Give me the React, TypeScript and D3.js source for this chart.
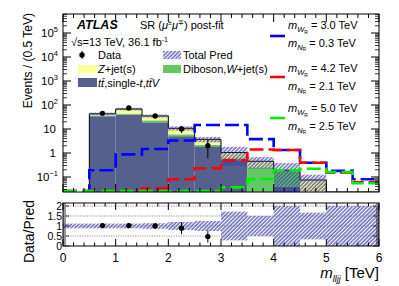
import * as d3 from "d3";
import React from "react";

// bins of 0.5 TeV from 0 to 6 TeV
const binLow = [0, 0.5, 1, 1.5, 2, 2.5, 3, 3.5, 4, 4.5, 5, 5.5];
const binWidth = 0.5;

// stacked backgrounds (events per bin)
const ttbar = [0, 34, 40, 19, 5, 1.9, 0.5, 0, 0.04, 0, 0, 0];
const diboson = [0, 3, 4, 4, 1, 0.3, 0.1, 0.25, 0.14, 0, 0, 0];
const zjets = [0, 6, 24, 12, 4.7, 1.5, 0.45, 0.2, 0.01, 0.075, 0, 0];
// relative uncertainty of total prediction
const bandErr = [0.12, 0.12, 0.12, 0.14, 0.2, 0.25, 0.72, 0.5, 1.0, 0.67, 1.0, 1.0];

// signal hypotheses
const sigBlue = [0, 0.19, 0.88, 1.46, 3.3, 14.7, 14.7, 3.8, 1.33, 0.39, 0.18, 0.08];
const sigRed = [0, 0, 0, 0.034, 0.08, 0.23, 0.5, 1.4, 1.33, 0.39, 0.15, 0.06];
const sigGreen = [0, 0, 0, 0, 0, 0, 0.037, 0.083, 0.19, 0.22, 0.16, 0.055];

// data
const dataX = [0.75, 1.25, 1.75, 2.25, 2.75];
const dataY = [45, 75, 35, 10, 2];
const dataErrUp = [6.7, 8.7, 5.9, 3.2, 1.5];
const dataErrDn = [6.7, 8.7, 5.9, 3.2, 1.4];
const ratioY = [1.02, 1.02, 1.0, 0.89, 0.47];
const ratioErr = [0.12, 0.12, 0.14, 0.3, 0.3];

// axes
const xTicks = [0, 1, 2, 3, 4, 5, 6];
const yDecades = [-1, 0, 1, 2, 3, 4, 5];
const ratioTicks = [0, 0.5, 1, 1.5, 2];
const ratioTickLabels = ["0", "0.5", "1", "1.5", "2"];

const FONT = "'Liberation Sans', Arial, Helvetica, sans-serif";
const C_TT = "#56608f";
const C_Z = "#ffff99";
const C_VV = "#63c963";
const C_HATCH = "#3535a6";

const L = 63, R = 379;
const MT = 14, MB = 192;
const RT = 203, RB = 246;

const x = d3.scaleLinear().domain([0, 6]).range([L, R]);
const y = d3.scaleLog().domain([0.0237, 6.2e5]).range([MB, MT]).clamp(true);
const ry = d3.scaleLinear().domain([0, 2.15]).range([RB, RT]).clamp(true);
const yv = (v: number) => (v > 0 ? y(v) : MB);

const stackData = binLow.map((lo, i) => ({ lo, ttbar: ttbar[i], diboson: diboson[i], zjets: zjets[i] }));
const series = d3.stack<any>().keys(["ttbar", "diboson", "zjets"])(stackData);
const fills: Record<string, string> = { ttbar: C_TT, diboson: C_VV, zjets: C_Z };
const totals = binLow.map((_, i) => ttbar[i] + diboson[i] + zjets[i]);

const stepLine = d3
  .line<{ x: number; v: number }>()
  .x((d) => x(d.x))
  .y((d) => (d.v > 0 ? Math.min(y(d.v), MB - 1) : MB - 1))
  .curve(d3.curveStepAfter);

const stepPts = (vals: number[]) => [
  ...binLow.map((lo, i) => ({ x: lo, v: vals[i] })),
  { x: 6, v: vals[vals.length - 1] },
];

const totalOutline = (() => {
  const first = totals.findIndex((t) => t > 0);
  const pts: [number, number][] = [[x(binLow[first]), MB]];
  totals.forEach((t, i) => {
    if (i < first) return;
    const yy = yv(t);
    pts.push([x(binLow[i]), yy], [x(binLow[i] + binWidth), yy]);
  });
  return d3.line()(pts) as string;
})();

function SigLabel({ yy, w, n }: { yy: number; w: string; n: string }) {
  return (
    <g fontSize={11}>
      <text x={288} y={yy}>
        <tspan fontStyle="italic">m</tspan>
        <tspan fontStyle="italic" fontSize={7.5} dy={3}>W</tspan>
        <tspan fontSize={5} dy={1.5}>R</tspan>
        <tspan dy={-4.5}> = {w} TeV</tspan>
      </text>
      <text x={288} y={yy + 17.5}>
        <tspan fontStyle="italic">m</tspan>
        <tspan fontStyle="italic" fontSize={7.5} dy={3}>N</tspan>
        <tspan fontSize={5} dy={1.5}>R</tspan>
        <tspan dy={-4.5}> = {n} TeV</tspan>
      </text>
    </g>
  );
}

export default function App() {
  const minorX = d3.range(0, 6.001, 0.2);
  const minorY: number[] = [];
  yDecades.concat([-2]).forEach((d) => {
    for (let k = 2; k <= 9; k++) {
      const v = k * Math.pow(10, d);
      if (v > 0.0237 && v < 6.2e5) minorY.push(v);
    }
  });
  const minorR = d3.range(0, 2.15, 0.1);

  return (
    <svg width={399} height={286} style={{ position: "absolute", left: 0, top: 0, background: "#fff" }} fontFamily={FONT}>
      <defs>
        <pattern id="hatch" patternUnits="userSpaceOnUse" width={2.7} height={2.7} patternTransform="rotate(45)">
          <line x1={1} y1={0} x2={1} y2={2.7} stroke={C_HATCH} strokeWidth={1.1} />
        </pattern>
        <clipPath id="mainClip">
          <rect x={L} y={MT} width={R - L} height={MB - MT} />
        </clipPath>
        <clipPath id="ratioClip">
          <rect x={L} y={RT} width={R - L} height={RB - RT} />
        </clipPath>
      </defs>

      {/* main panel */}
      <g clipPath="url(#mainClip)">
        {series.map((s) =>
          s.map((d, i) =>
            d[1] - d[0] > 0 ? (
              <rect
                key={s.key + i}
                x={x(binLow[i])}
                y={yv(d[1])}
                width={x(binLow[i] + binWidth) - x(binLow[i])}
                height={Math.max(0, yv(d[0]) - yv(d[1]))}
                fill={fills[s.key]}
              />
            ) : null
          )
        )}
        <path d={totalOutline} fill="none" stroke="#000" strokeWidth={1} />
        {totals.map((t, i) =>
          t > 0 ? (
            <rect
              key={"b" + i}
              x={x(binLow[i])}
              y={yv(t * (1 + bandErr[i]))}
              width={x(binLow[i] + binWidth) - x(binLow[i])}
              height={yv(t * (1 - bandErr[i])) - yv(t * (1 + bandErr[i]))}
              fill="url(#hatch)"
            />
          ) : null
        )}
        <path d={stepLine(stepPts(sigBlue)) as string} fill="none" stroke="#0000ff" strokeWidth={2.6} strokeDasharray="14 5" />
        <path d={stepLine(stepPts(sigRed)) as string} fill="none" stroke="#ff0000" strokeWidth={2.6} strokeDasharray="14 5" />
        <path d={stepLine(stepPts(sigGreen)) as string} fill="none" stroke="#00ee00" strokeWidth={2.6} strokeDasharray="14 5" />
        {dataX.map((dx, i) => (
          <g key={"d" + i}>
            <line x1={x(dx)} x2={x(dx)} y1={yv(dataY[i] + dataErrUp[i])} y2={yv(dataY[i] - dataErrDn[i])} stroke="#000" strokeWidth={1} />
            <circle cx={x(dx)} cy={yv(dataY[i])} r={2.7} fill="#000" />
          </g>
        ))}
      </g>

      {/* main frame and ticks */}
      <rect x={L} y={MT} width={R - L} height={MB - MT} fill="none" stroke="#000" strokeWidth={1} />
      {minorX.map((t) => {
        const major = Math.abs(t - Math.round(t)) < 1e-6;
        const len = major ? 8 : 4;
        return (
          <g key={"mx" + t} stroke="#000" strokeWidth={1}>
            <line x1={x(t)} x2={x(t)} y1={MB} y2={MB - len} />
            <line x1={x(t)} x2={x(t)} y1={MT} y2={MT + len} />
          </g>
        );
      })}
      {yDecades.map((d) => (
        <g key={"yd" + d} stroke="#000" strokeWidth={1}>
          <line x1={L} x2={L + 8} y1={y(Math.pow(10, d))} y2={y(Math.pow(10, d))} />
          <line x1={R} x2={R - 8} y1={y(Math.pow(10, d))} y2={y(Math.pow(10, d))} />
        </g>
      ))}
      {minorY.map((v, i) => (
        <g key={"ym" + i} stroke="#000" strokeWidth={0.8}>
          <line x1={L} x2={L + 4} y1={y(v)} y2={y(v)} />
          <line x1={R} x2={R - 4} y1={y(v)} y2={y(v)} />
        </g>
      ))}
      {yDecades.map((d) => {
        const yy = y(Math.pow(10, d)) + 4;
        if (d === 0)
          return (
            <text key={"yl" + d} x={56} y={yy} fontSize={11.5} textAnchor="end">1</text>
          );
        if (d === 1)
          return (
            <text key={"yl" + d} x={56} y={yy} fontSize={11.5} textAnchor="end">10</text>
          );
        return (
          <text key={"yl" + d} x={58} y={yy} fontSize={11.5} textAnchor="end">
            10<tspan fontSize={7.5} dy={-5}>{d < 0 ? "\u2212" + -d : d}</tspan>
          </text>
        );
      })}
      <text transform="translate(32,13) rotate(-90)" fontSize={12} textAnchor="end">Events / (0.5 TeV)</text>

      {/* legend */}
      <text x={77} y={29} fontSize={12.5} fontWeight="bold" fontStyle="italic">ATLAS</text>
      <text x={140} y={29} fontSize={11}>
        SR (<tspan fontStyle="italic">μ</tspan>
        <tspan fontSize={7} dy={-4}>±</tspan>
        <tspan fontStyle="italic" dy={4}>μ</tspan>
        <tspan fontSize={7} dy={-4}>∓</tspan>
        <tspan dy={4}>) post-fit</tspan>
      </text>
      <text x={71} y={46} fontSize={11}>
        √s=13 TeV, 36.1 fb<tspan fontSize={7} dy={-4}>-1</tspan>
      </text>
      <line x1={82} x2={82} y1={51} y2={59} stroke="#000" strokeWidth={1} />
      <circle cx={82} cy={55} r={2.7} fill="#000" />
      <text x={98} y={59} fontSize={11}>Data</text>
      <rect x={163} y={51} width={18} height={8} fill="url(#hatch)" />
      <text x={183} y={59} fontSize={11}>Total Pred</text>
      <rect x={78} y={65} width={19} height={8} fill={C_Z} />
      <text x={98} y={73} fontSize={11}>
        <tspan fontStyle="italic">Z</tspan>+jet(s)
      </text>
      <rect x={163} y={65} width={18} height={8} fill={C_VV} />
      <text x={183} y={73} fontSize={11}>
        Diboson,<tspan fontStyle="italic">W</tspan>+jet(s)
      </text>
      <rect x={78} y={78} width={19} height={9} fill={C_TT} />
      <text x={98} y={87} fontSize={11}>
        <tspan fontStyle="italic">tt̄</tspan>,single-<tspan fontStyle="italic">t</tspan>,<tspan fontStyle="italic">tt̄V</tspan>
      </text>

      <line x1={270} x2={285} y1={36} y2={36} stroke="#0000ff" strokeWidth={2.6} />
      <SigLabel yy={29} w="3.0" n="0.3" />
      <line x1={270} x2={285} y1={77} y2={77} stroke="#ff0000" strokeWidth={2.6} />
      <SigLabel yy={72} w="4.2" n="2.1" />
      <line x1={270} x2={285} y1={118} y2={118} stroke="#00ee00" strokeWidth={2.6} />
      <SigLabel yy={112} w="5.0" n="2.5" />

      {/* ratio panel */}
      <g clipPath="url(#ratioClip)">
        {binLow.map((lo, i) => (
          <rect
            key={"rb" + i}
            x={x(lo)}
            y={ry(1 + bandErr[i])}
            width={x(lo + binWidth) - x(lo)}
            height={ry(Math.max(0, 1 - bandErr[i])) - ry(1 + bandErr[i])}
            fill="url(#hatch)"
          />
        ))}
        {[0.5, 1, 1.5, 2].map((v) => (
          <line key={"g" + v} x1={L} x2={R} y1={ry(v)} y2={ry(v)} stroke="#777" strokeWidth={0.8} strokeDasharray="1.2 1.2" />
        ))}
        {dataX.map((dx, i) => (
          <g key={"r" + i}>
            <line x1={x(dx)} x2={x(dx)} y1={ry(ratioY[i] + ratioErr[i])} y2={ry(ratioY[i] - ratioErr[i])} stroke="#000" strokeWidth={1} />
            <circle cx={x(dx)} cy={ry(ratioY[i])} r={2.7} fill="#000" />
          </g>
        ))}
      </g>
      <rect x={L} y={RT} width={R - L} height={RB - RT} fill="none" stroke="#000" strokeWidth={1} />
      {minorX.map((t) => {
        const major = Math.abs(t - Math.round(t)) < 1e-6;
        const len = major ? 7 : 3.5;
        return (
          <g key={"rx" + t} stroke="#000" strokeWidth={1}>
            <line x1={x(t)} x2={x(t)} y1={RB} y2={RB - len} />
            <line x1={x(t)} x2={x(t)} y1={RT} y2={RT + len} />
          </g>
        );
      })}
      {minorR.map((v, i) => {
        const major = Math.abs(v * 2 - Math.round(v * 2)) < 1e-6;
        const len = major ? 6 : 3;
        return (
          <g key={"rm" + i} stroke="#000" strokeWidth={0.8}>
            <line x1={L} x2={L + len} y1={ry(v)} y2={ry(v)} />
            <line x1={R} x2={R - len} y1={ry(v)} y2={ry(v)} />
          </g>
        );
      })}
      {ratioTicks.map((v, i) => (
        <text key={"rl" + v} x={62} y={ry(v) + 3.6} fontSize={10.5} textAnchor="end">{ratioTickLabels[i]}</text>
      ))}
      <text transform="translate(34,200) rotate(-90)" fontSize={14} textAnchor="end">Data/Pred</text>

      {xTicks.map((t) => (
        <text key={"xl" + t} x={x(t)} y={262} fontSize={12} textAnchor="middle">{t}</text>
      ))}
      <text x={R} y={277.5} fontSize={15} textAnchor="end">
        <tspan fontStyle="italic">m</tspan>
        <tspan fontStyle="italic" fontSize={9} dy={4}>lljj</tspan>
        <tspan dy={-4}> [TeV]</tspan>
      </text>
    </svg>
  );
}
